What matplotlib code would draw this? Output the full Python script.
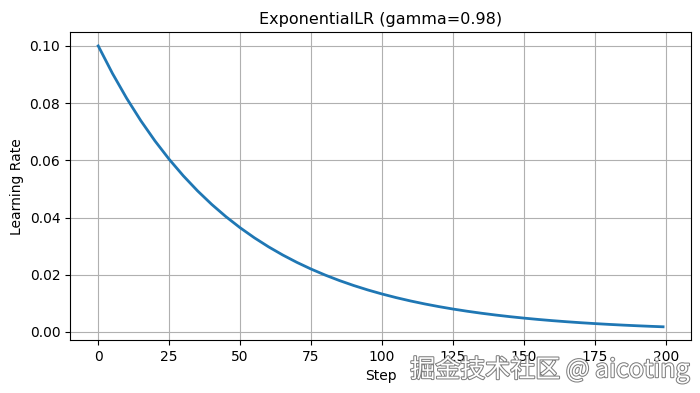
import matplotlib
matplotlib.use("Agg")
import matplotlib.pyplot as plt
import matplotlib.patheffects as pe

# Values (learning rate at given steps)
steps = [0, 5, 10, 15, 20, 25, 30, 35, 40, 45, 50, 55, 60, 65, 70, 75, 80, 85, 90, 95,
         100, 105, 110, 115, 120, 125, 130, 135, 140, 145, 150, 155, 160, 165, 170, 175,
         180, 185, 190, 195, 199]
lr_values = [0.1, 0.090392, 0.081707, 0.073857, 0.066761, 0.060346, 0.054548, 0.049307,
             0.044570, 0.040288, 0.036417, 0.032918, 0.029755, 0.026897, 0.024312, 0.021976,
             0.019865, 0.017956, 0.016231, 0.014671, 0.013262, 0.011988, 0.010836, 0.009795,
             0.008854, 0.008003, 0.007234, 0.006539, 0.005911, 0.005343, 0.004830, 0.004366,
             0.003946, 0.003567, 0.003224, 0.002915, 0.002635, 0.002381, 0.002153, 0.001946,
             0.001795]

fig = plt.figure(figsize=(7, 3.93), dpi=100)
ax = fig.add_axes([0.1, 0.135, 0.8876, 0.7824])
ax.plot(steps, lr_values, color="#1f77b4", linewidth=2)
ax.set_title("ExponentialLR (gamma=0.98)", fontsize=11.5)
ax.set_xlabel("Step", fontsize=10)
ax.set_ylabel("Learning Rate", fontsize=10)
ax.tick_params(labelsize=10)
ax.set_xticks([0, 25, 50, 75, 100, 125, 150, 175, 200])
ax.set_yticks([0.0, 0.02, 0.04, 0.06, 0.08, 0.10])
ax.set_yticklabels(["0.00", "0.02", "0.04", "0.06", "0.08", "0.10"])
ax.set_xlim(-9.95, 208.95)
ax.set_ylim(-0.0028, 0.1047)
ax.grid(True, color="#b0b0b0", linewidth=0.8)

fig.text(0.985, 0.025, "掘金技术社区 @ aicoting", ha="right", va="bottom",
         fontsize=18, color="white", family=["Noto Sans CJK SC", "DejaVu Sans"],
         path_effects=[pe.withStroke(linewidth=1.5, foreground="#808080")])

fig.savefig("out.png", dpi=100)
